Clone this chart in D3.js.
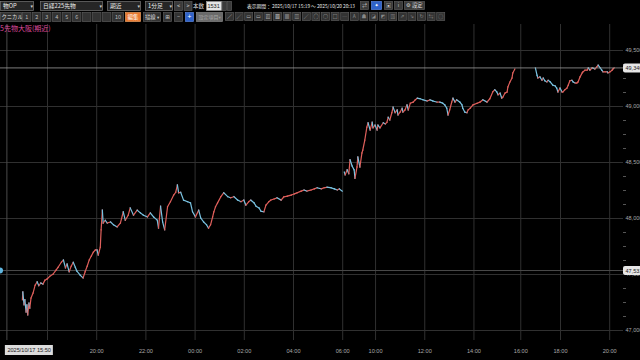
<!DOCTYPE html>
<html><head><meta charset="utf-8">
<script src="https://cdn.jsdelivr.net/npm/d3@7"></script>
<style>
html,body{margin:0;padding:0;background:#000;overflow:hidden}
svg{display:block}
text{font-family:"Noto Sans CJK JP","DejaVu Sans",sans-serif}
</style></head>
<body><svg id="c" width="640" height="360"></svg>
<script>
// ---------- data ----------
const nightTimes1 = ["17:00","17:01","17:04","17:06","17:09","17:11","17:13","17:16","17:18","17:21","17:26","17:31","17:36","17:40","17:45","17:50","17:55","18:00","18:07","18:15","18:22","18:27","18:35","18:40","18:45","18:49","18:54","18:59","19:04","19:09","19:13","19:21","19:28","19:33","19:38","19:43","19:48","19:53","19:58","20:02","20:05","20:10","20:12","20:15","20:17","20:22","20:27","20:35","20:42","20:51","20:59","21:06","21:11","21:18","21:23","21:31","21:40","21:48","21:55","22:05","22:12","22:20","22:29","22:32","22:37","22:42","22:47","22:54","23:01","23:09","23:14","23:18","23:21","23:26","23:33","23:43","23:50","23:55","00:02","00:10","00:15","00:22","00:29","00:34","00:39","00:44","00:47","00:51","00:56","01:04","01:11","01:21","01:28","01:36","01:45","01:53","02:00","02:05","02:12","02:17","02:25","02:30","02:37","02:42","02:49","02:54","03:01","03:06","03:14","03:21","03:31","03:38","03:46","03:56","04:03","04:10","04:20","04:27","04:34","04:44","04:52","04:59","05:09","05:16","05:23","05:33","05:41","05:48","05:53","06:00"];
const nightPrices1 = [47270,47340,47225,47270,47160,47225,47135,47240,47195,47285,47330,47400,47430,47395,47420,47410,47445,47455,47480,47500,47535,47560,47605,47625,47555,47590,47520,47570,47605,47560,47525,47490,47465,47520,47570,47625,47660,47695,47715,47715,47670,47740,47895,48070,47955,47980,47955,47965,47940,47920,47955,48055,47980,48025,48090,48025,48070,48045,48025,48010,48045,48010,47980,47910,48105,47965,47895,48100,48145,48205,48230,48295,48225,48230,48160,48145,48135,48055,48010,48070,48000,47965,47940,47910,47940,48010,48055,48100,48135,48190,48225,48190,48180,48190,48160,48145,48160,48115,48145,48160,48135,48105,48090,48060,48055,48115,48145,48160,48170,48180,48160,48190,48195,48205,48215,48225,48240,48250,48240,48250,48260,48270,48260,48270,48275,48270,48260,48250,48260,48240];
const dayTimes = ["08:45","08:47","08:52","08:56","08:59","09:04","09:09","09:11","09:16","09:18","09:23","09:28","09:30","09:35","09:40","09:43","09:48","09:53","09:55","10:00","10:05","10:07","10:12","10:20","10:25","10:29","10:32","10:36","10:41","10:44","10:49","10:54","10:56","11:01","11:06","11:08","11:13","11:18","11:21","11:26","11:33","11:38","11:43","11:50","11:57","12:07","12:14","12:21","12:31","12:38","12:45","12:50","12:55","12:58","13:02","13:07","13:10","13:15","13:19","13:27","13:32","13:34","13:39","13:44","13:47","13:52","13:59","14:09","14:16","14:23","14:33","14:40","14:47","14:52","14:57","15:00","15:05","15:09","15:12","15:17","15:22","15:24","15:29","15:34","15:36","15:41"];
const dayPrices = [48410,48385,48430,48395,48520,48465,48430,48355,48455,48545,48455,48580,48605,48695,48810,48850,48785,48855,48805,48830,48785,48830,48805,48850,48840,48855,48900,48875,48940,48990,48940,48965,48920,48945,48980,48945,48965,49010,48965,49025,49035,49055,49070,49065,49055,49045,49055,49045,49035,49035,49025,49010,48980,48920,48965,49035,49070,49035,49055,49035,49010,48980,48945,48940,48965,48980,49010,49025,49035,49055,49035,49065,49125,49145,49125,49100,49115,49070,49080,49115,49125,49170,49215,49250,49295,49330];
const nightTimes2 = ["17:00","17:04","17:06","17:11","17:16","17:19","17:23","17:28","17:31","17:36","17:43","17:48","17:52","17:55","18:00","18:05","18:07","18:12","18:17","18:20","18:24","18:29","18:32","18:37","18:41","18:44","18:49","18:54","18:56","19:01","19:06","19:09","19:13","19:18","19:20","19:25","19:30","19:33","19:38","19:42","19:45","19:50","19:55","19:57","20:02","20:07","20:09","20:12"];
const nightPrices2 = [49340,49275,49250,49260,49230,49250,49225,49215,49230,49215,49185,49180,49160,49125,49160,49125,49125,49145,49160,49185,49225,49230,49215,49205,49205,49215,49260,49295,49305,49320,49320,49340,49320,49340,49340,49330,49350,49365,49340,49320,49305,49305,49305,49295,49305,49320,49330,49340];

// sessions: [open, close] on the compressed time axis
const sessionBounds = [
  ["2025-10-17T17:00","2025-10-18T06:00"],
  ["2025-10-20T08:45","2025-10-20T15:45"],
  ["2025-10-20T17:00","2025-10-20T20:13"]
];
const windowStart = "2025-10-17T15:19";
const xTickTimes = ["2025-10-17T18:00","2025-10-17T20:00","2025-10-17T22:00","2025-10-18T00:00","2025-10-18T02:00","2025-10-18T04:00","2025-10-18T06:00","2025-10-20T10:00","2025-10-20T12:00","2025-10-20T14:00","2025-10-20T16:00","2025-10-20T18:00","2025-10-20T20:00"];
const yTickValues = [47000,47500,48000,48500,49000,49500];
const yMinorValues = [47125,47250,47375,47625,47750,47875,48125,48250,48375,48625,48750,48875,49125,49250,49375];
const crossTime = "2025-10-17T15:50";
const crossPrice = 47531;
const crossDateLabel = "2025/10/17 15:50";
const titleLabel = "5先物大阪(期近)";
const periodLabel = "表示期間： 2025/10/17 15:19 ～ 2025/10/20 20:13";

// ---------- scales ----------
const svg = d3.select("#c");
const W = 640, H = 360;
const plotRight = 623, plotTop = 24, plotBottom = 330, axisBottomY = 340;
const pxPerHour = 24.6, leftPad = 22.4, gaps = [2.1, 18.9];
const numFont = "Liberation Sans, Arial, sans-serif";
const T = s => new Date(s).getTime();
const dom = [T(windowStart)], rng = [0];
let cur = leftPad;
sessionBounds.forEach((b, i) => {
  const a = T(b[0]), e = T(b[1]);
  dom.push(a); rng.push(cur);
  cur += (e - a) / 3600000 * pxPerHour;
  dom.push(e); rng.push(cur);
  if (i < gaps.length) cur += gaps[i];
});
const x = d3.scaleLinear().domain(dom).range(rng);
const y = d3.scaleLinear().domain([47000, 49500]).range([plotBottom, 50]);

svg.append("rect").attr("width", W).attr("height", H).attr("fill", "#000");

// ---------- grid / axes ----------
const crossX = x(T(crossTime));
const gx = svg.append("g").attr("transform", `translate(0,${axisBottomY})`)
  .call(d3.axisBottom(x).tickValues(xTickTimes.map(T))
    .tickSize(-(axisBottomY - plotTop)).tickPadding(9)
    .tickFormat(d => d3.timeFormat("%H:%M")(new Date(d))));
gx.select(".domain").remove();
gx.selectAll("line").attr("stroke", "#303030");
gx.selectAll("text").attr("fill", "#a8a8a8").attr("font-size", 5.6)
  .style("font-family", numFont)
  // the first label sits under the crosshair date box, as in the original
  .attr("display", d => Math.abs(x(d) - crossX) < 45 ? "none" : null);

const gy = svg.append("g").attr("transform", `translate(${plotRight},0)`)
  .call(d3.axisRight(y).tickValues(yTickValues).tickSize(-plotRight).tickPadding(2.5)
    .tickFormat(d3.format(",")));
gy.select(".domain").remove();
gy.selectAll("line").attr("stroke", "#303030");
gy.selectAll("text").attr("fill", "#a8a8a8").attr("font-size", 5.5)
  .style("font-family", numFont);

const gm = svg.append("g").attr("transform", `translate(${plotRight},0)`)
  .call(d3.axisRight(y).tickValues(yMinorValues).tickSize(3).tickFormat(""));
gm.select(".domain").remove();
gm.selectAll("line").attr("stroke", "#555");

// ---------- crosshair ----------
svg.append("line").attr("x1", crossX).attr("x2", crossX)
  .attr("y1", plotTop).attr("y2", axisBottomY).attr("stroke", "#4a4a4a");
svg.append("line").attr("x1", 0).attr("x2", plotRight)
  .attr("y1", y(crossPrice)).attr("y2", y(crossPrice)).attr("stroke", "#4a4a4a");

// ---------- price series ----------
function toPoints(times, prices, dateFn) {
  return times.map((t, i) => ({ t: T(dateFn(t) + "T" + t), v: prices[i] }));
}
const series = [
  toPoints(nightTimes1, nightPrices1, t => (+t.slice(0, 2) >= 17 ? "2025-10-17" : "2025-10-18")),
  toPoints(dayTimes, dayPrices, () => "2025-10-20"),
  toPoints(nightTimes2, nightPrices2, () => "2025-10-20")
];
const up = "#e0605c", down = "#79c3e2";
const gs = svg.append("g");
series.forEach(pts => {
  const segs = pts.slice(1).map((p, i) => ({ a: pts[i], b: p }));
  gs.selectAll(null).data(segs).enter().append("line")
    .attr("x1", d => x(d.a.t)).attr("y1", d => y(d.a.v))
    .attr("x2", d => x(d.b.t)).attr("y2", d => y(d.b.v))
    .attr("stroke", d => d.b.v >= d.a.v ? up : down)
    .attr("stroke-width", 1.2).attr("stroke-linecap", "square");
});

// last price line + label
const lastPrice = nightPrices2[nightPrices2.length - 1];
svg.append("line").attr("x1", 0).attr("x2", plotRight)
  .attr("y1", y(lastPrice)).attr("y2", y(lastPrice)).attr("stroke", "#9a9a9a").attr("stroke-width", 0.8);
function priceTag(v) {
  const g = svg.append("g").attr("transform", `translate(${plotRight},${y(v)})`);
  g.append("rect").attr("x", 0).attr("y", -4.5).attr("width", 24).attr("height", 9).attr("rx", 2).attr("fill", "#e6e6e6");
  g.append("text").attr("x", 2.5).attr("y", 2.1).attr("font-size", 5.5).attr("fill", "#222")
    .style("font-family", numFont).text(d3.format(",")(v));
}
priceTag(lastPrice);
priceTag(crossPrice);
svg.append("circle").attr("cx", 0).attr("cy", y(crossPrice)).attr("r", 3).attr("fill", "#5fb6e0");

// crosshair date label
const dl = svg.append("g").attr("transform", `translate(${crossX - 2},345)`);
dl.append("rect").attr("width", 48).attr("height", 10).attr("fill", "#dcdcdc");
dl.append("text").attr("x", 2.5).attr("y", 7.3).attr("font-size", 5.6).attr("fill", "#222")
  .style("font-family", numFont).text(crossDateLabel);

// ---------- toolbar ----------
const tb = svg.append("g");
function box(xx, yy, w, h, fill, stroke) {
  return tb.append("rect").attr("x", xx + 0.5).attr("y", yy + 0.5).attr("width", w).attr("height", h)
    .attr("fill", fill).attr("stroke", stroke || "#5a5a5a").attr("stroke-width", 0.7);
}
function txt(xx, yy, s, fill, size, anchor) {
  return tb.append("text").attr("x", xx).attr("y", yy).attr("fill", fill || "#ddd")
    .attr("font-size", size || 5.8).attr("text-anchor", anchor || "start").text(s);
}
const dropdowns = [[0, 33, "物OP"], [40, 62, "日経225先物"], [107, 33, "期近"], [145, 27, "1分足"]];
dropdowns.forEach(d => {
  box(d[0], 1, d[1], 9, "#262626", "#777");
  txt(d[0] + 3, 8, d[2], "#e8e8e8");
  txt(d[0] + d[1] - 2.5, 7.8, "▾", "#ccc", 5);
});
box(174, 1, 8, 9, "#3a3a3a"); txt(178.5, 8, "<", "#ccc", 5.5, "middle");
box(183.5, 1, 8, 9, "#3a3a3a"); txt(188, 8, ">", "#ccc", 5.5, "middle");
txt(193, 8, "本数", "#ddd", 5.5);
box(206, 1, 15, 9, "#e4e4e4", "#999");
tb.append("text").attr("x", 207.5).attr("y", 7.8).attr("font-size", 5.5).attr("fill", "#222")
  .style("font-family", numFont).text("1531");
box(222, 1, 4, 9, "#3a3a3a"); box(227, 1, 4, 9, "#3a3a3a");
txt(247, 7.9, periodLabel, "#e8e8e8", 5.1).attr("textLength", 108).attr("lengthAdjust", "spacingAndGlyphs");
box(360, 1, 8, 8, "#3a3a3a"); txt(364.5, 7.3, "⇄", "#ddd", 5, "middle");
box(371, 1, 10, 8, "#2f62c8", "#5a86e0"); txt(376.5, 7.3, "✦", "#fff", 5, "middle");
box(384, 1, 8, 8, "#3a3a3a"); txt(388.5, 7.3, "▣", "#ccc", 5, "middle");
box(394, 1, 8, 8, "#3a3a3a"); txt(398.5, 7.3, "i", "#ccc", 5, "middle");
box(404, 1, 20, 8, "#3a3a3a"); txt(406, 7.4, "⚙ 設定", "#ddd", 5.3);

box(0, 12, 21, 9, "#333"); txt(1.5, 19.1, "クニカル", "#ddd", 5.3);
const btnLabels = ["1", "2", "3", "4", "5", "6", "", "", "", "10"];
btnLabels.forEach((l, i) => {
  const w = i === 9 ? 11 : 8.5;
  box(22 + i * 10, 12, w, 9, "#333");
  txt(22 + i * 10 + w / 2 + 0.5, 19.1, l, "#bbb", 5.5, "middle");
});
box(125, 12, 15, 9, "#e8772e", "#f0a060"); txt(133, 19.1, "編集", "#fff", 5.5, "middle");
box(143, 12, 17, 9, "#333"); txt(145, 19.1, "描線", "#ddd", 5.3); txt(157, 18.8, "▾", "#ccc", 4.5);
box(163, 12, 8, 9, "#333"); txt(167.5, 19, "⊞", "#ccc", 5.5, "middle");
box(174, 12, 8, 9, "#333"); txt(178.5, 19, "−", "#ccc", 5.5, "middle");
box(185, 12, 8, 9, "#2f62c8", "#5a86e0"); txt(189.5, 19.2, "+", "#fff", 7, "middle");
box(196, 12, 26, 9, "#6a6a6a", "#888"); txt(198.5, 19, "設定項目", "#aaa", 5);
txt(218.5, 18.8, "▾", "#999", 4.5);
const iconGlyphs = ["／", "╱", "▭", "▭", "▨", "▩", "▦", "▥", "╱", "◯", "○", "□", "─", "A", "☗", "◪", "◩", "▧", "⇗", "⇘", "↻", "⇆", "◌"];
iconGlyphs.forEach((g, i) => {
  const xx = 225 + i * 9.6;
  box(xx, 12, 8, 8, "#333");
  txt(xx + 4.5, 18.4, g, i < 12 ? "#bbb" : "#888", 5, "middle");
});

// series title
svg.append("text").attr("x", 0).attr("y", 30.5).attr("font-size", 7).attr("fill", "#de4a9c").text(titleLabel);
</script></body></html>
